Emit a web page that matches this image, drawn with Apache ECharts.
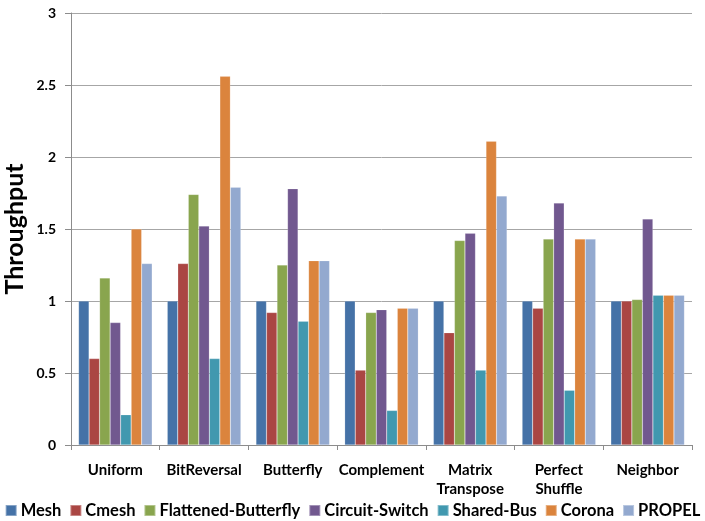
<!DOCTYPE html>
<html>
<head>
<meta charset="utf-8">
<script src="https://cdn.jsdelivr.net/npm/echarts@6/dist/echarts.min.js"></script>
<style>
  html, body { margin: 0; padding: 0; background: #fff; }
  #chart { width: 705px; height: 521px; }
</style>
</head>
<body>
<div id="chart"></div>
<script>
// Traffic patterns on the x axis
const patterns = ['Uniform', 'BitReversal', 'Butterfly', 'Complement', 'Matrix\nTranspose', 'Perfect\nShuffle', 'Neighbor'];

// Throughput per network, one value per traffic pattern
const mesh        = [1.00, 1.00, 1.00, 1.00, 1.00, 1.00, 1.00];
const cmesh       = [0.60, 1.26, 0.92, 0.52, 0.78, 0.95, 1.00];
const flattened   = [1.16, 1.74, 1.25, 0.92, 1.42, 1.43, 1.01];
const circuit     = [0.85, 1.52, 1.78, 0.94, 1.47, 1.68, 1.57];
const sharedBus   = [0.21, 0.60, 0.86, 0.24, 0.52, 0.38, 1.04];
const corona      = [1.50, 2.56, 1.28, 0.95, 2.11, 1.43, 1.04];
const propel      = [1.26, 1.79, 1.28, 0.95, 1.73, 1.43, 1.04];

const seriesNames = ['Mesh', 'Cmesh', 'Flattened-Butterfly', 'Circuit-Switch', 'Shared-Bus', 'Corona', 'PROPEL'];
const seriesData = [mesh, cmesh, flattened, circuit, sharedBus, corona, propel];
const palette = ['#4572A7', '#AA4643', '#89A54E', '#71588F', '#4198AF', '#DB843D', '#93A9CF'];

const FONT = 'Lato, "Open Sans", sans-serif';

const chart = echarts.init(document.getElementById('chart'), null, { renderer: 'canvas' });
chart.setOption({
  animation: false,
  color: palette,
  grid: { left: 71, right: 13, top: 13, bottom: 76, containLabel: false, outerBoundsMode: 'none' },
  legend: {
    top: 502,
    left: 'center',
    width: 705,
    padding: 0,
    itemWidth: 11,
    itemHeight: 11,
    itemGap: 8,
    icon: 'rect',
    textStyle: { fontFamily: FONT, fontWeight: 'bold', fontSize: 16.5, color: '#000', padding: [0, 0, 0, -1] },
    data: seriesNames
  },
  xAxis: {
    type: 'category',
    data: patterns,
    axisLine: { lineStyle: { color: '#8c8c8c', width: 1 } },
    axisTick: { show: true, length: 5, lineStyle: { color: '#8c8c8c' } },
    axisLabel: {
      margin: 16,
      fontFamily: FONT,
      fontWeight: 'bold',
      fontSize: 15,
      color: '#000',
      lineHeight: 19,
      interval: 0
    }
  },
  yAxis: {
    type: 'value',
    min: 0,
    max: 3,
    interval: 0.5,
    name: 'Throughput',
    nameLocation: 'middle',
    nameGap: 44,
    nameMoveOverlap: false,
    nameTextStyle: { fontFamily: FONT, fontWeight: 'bold', fontSize: 25, color: '#000' },
    axisLine: { show: true, lineStyle: { color: '#8c8c8c', width: 1 } },
    axisTick: { show: true, length: 6, lineStyle: { color: '#8c8c8c' } },
    axisLabel: {
      margin: 15,
      fontFamily: FONT,
      fontWeight: 'bold',
      fontSize: 14,
      color: '#000'
    },
    splitLine: { show: true, lineStyle: { color: '#a6a6a6', width: 1 } }
  },
  series: seriesNames.map((name, i) => ({
    name: name,
    type: 'bar',
    data: seriesData[i],
    barGap: '0%',
    barCategoryGap: '17%',
    itemStyle: {
      color: palette[i],
      borderColor: 'rgba(255,255,255,0.35)',
      borderWidth: 0.5
    }
  }))
});
</script>
</body>
</html>
